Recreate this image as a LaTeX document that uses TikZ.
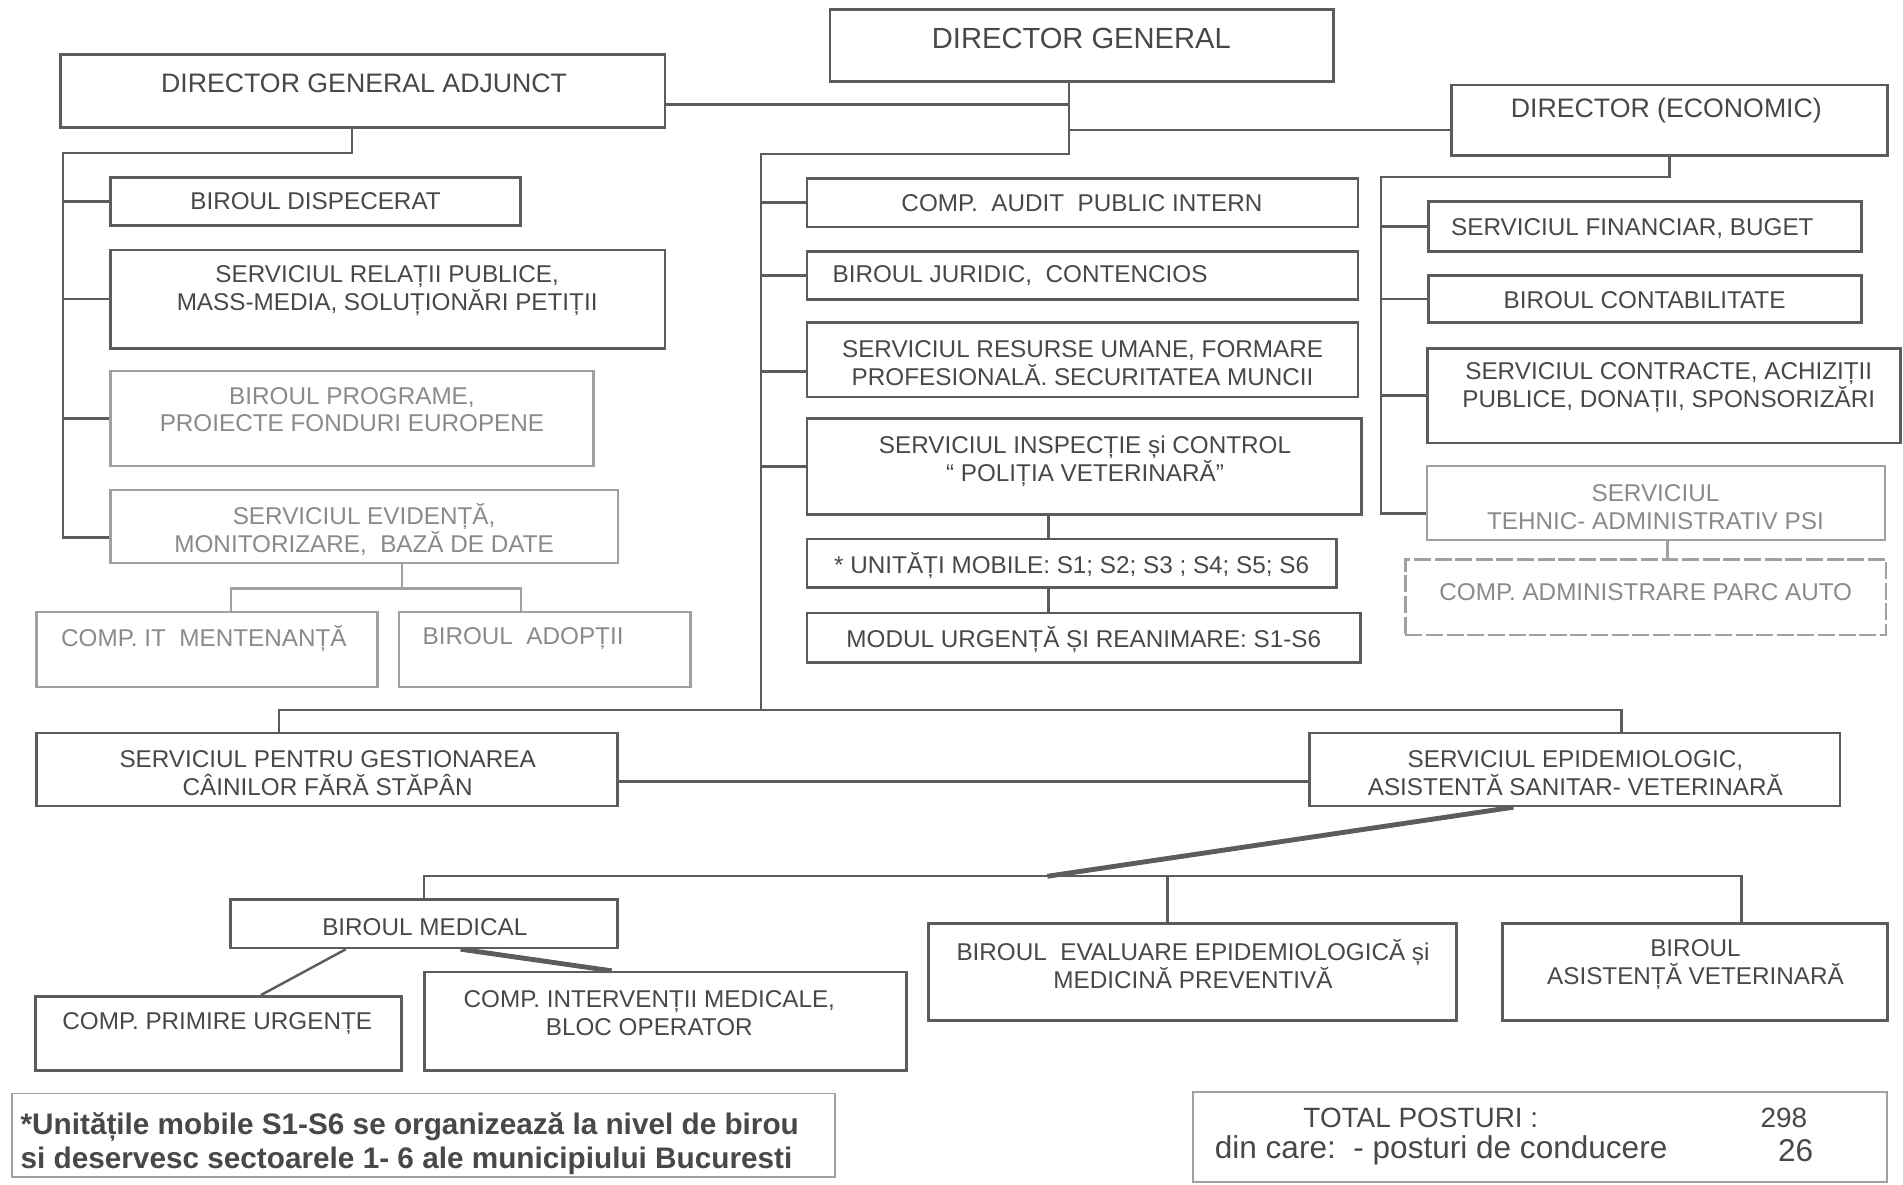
\documentclass[tikz,border=0pt]{standalone}
\usepackage{fontspec}
\setmainfont{Liberation Sans}
\usetikzlibrary{fit}
\definecolor{linegray}{HTML}{5C5C5C}
\definecolor{textgray}{HTML}{484848}
\definecolor{fadegray}{HTML}{A0A0A0}
\definecolor{fadetext}{HTML}{8A8A8A}
\tikzset{every picture/.style={line width=2pt}}

\begin{document}
\begin{tikzpicture}[x=1pt,y=1pt,yscale=-1,xscale=1,
  orgbox/.style={draw=linegray, inner sep=0pt, line width=2.2pt},
  fadebox/.style={draw=fadegray, inner sep=0pt, line width=1.8pt},
  notebox/.style={draw=fadegray, inner sep=0pt, line width=1.6pt},
  link/.style={draw=linegray, line width=2pt},
  fadelink/.style={draw=fadegray, line width=1.8pt},
  thicklink/.style={draw=linegray, line width=4pt},
  boxtext/.style={text=textgray, inner sep=0pt, align=center, font=\fontsize{20}{23}\selectfont},
  fadetxt/.style={boxtext, text=fadetext}
]
\useasboundingbox (0,0) rectangle (1568,976);

%Shape: Rectangle [top level]
\node[orgbox, fit={(684,8) (1099,67)}] (dg) {};
\node[orgbox, fit={(50,45) (548,105)}] (dga) {};
\node[orgbox, fit={(1196,70) (1555,128)}] (de) {};

%Shape: Rectangle [left column]
\node[orgbox, fit={(91,146) (429,186)}] (disp) {};
\node[orgbox, fit={(91,206) (548,287)}] (relatii) {};
\node[fadebox, fit={(91,306) (489,384)}] (programe) {};
\node[fadebox, fit={(91,404) (509,464)}] (evidenta) {};
\node[fadebox, fit={(30,504) (311,566)}] (compit) {};
\node[fadebox, fit={(329,504) (569,566)}] (adoptii) {};

%Shape: Rectangle [center column]
\node[orgbox, fit={(665,147) (1119,187)}] (audit) {};
\node[orgbox, fit={(665,207) (1119,247)}] (juridic) {};
\node[orgbox, fit={(665,266) (1119,327)}] (resurse) {};
\node[orgbox, fit={(665,345) (1122,424)}] (inspectie) {};
\node[orgbox, fit={(665,444) (1101,484)}] (unitati) {};
\node[orgbox, fit={(665,505) (1121,546)}] (modul) {};

%Shape: Rectangle [right column]
\node[orgbox, fit={(1177,166) (1534,207)}] (financiar) {};
\node[orgbox, fit={(1177,227) (1534,266)}] (contab) {};
\node[orgbox, fit={(1176,287) (1566,365)}] (contracte) {};
\node[fadebox, fit={(1176,384) (1553,445)}] (tehnic) {};
\node[fadebox, dash pattern=on 14pt off 3pt, fit={(1158,461) (1554,523)}] (parcauto) {};

%Shape: Rectangle [bottom]
\node[orgbox, fit={(30,604) (509,664)}] (caini) {};
\node[orgbox, fit={(1079,604) (1516,664)}] (epidem) {};
\node[orgbox, fit={(190,741) (509,781)}] (medical) {};
\node[orgbox, fit={(765,761) (1200,841)}] (evaluare) {};
\node[orgbox, fit={(1238,761) (1555,841)}] (asistenta) {};
\node[orgbox, fit={(29,821) (331,882)}] (primire) {};
\node[orgbox, fit={(350,801) (747,882)}] (interventii) {};
\node[notebox, fit={(10,901) (688,970)}] (nota) {};
\node[notebox, fit={(983,900) (1555,974)}] (total) {};

%Straight Lines [director general]
\coordinate (dgbot) at ([xshift=-10.5pt]dg.south);
\coordinate (ctrunk) at (627,127);
\coordinate (cbus) at (627,585);
\draw[link] (dgbot) |- ([yshift=11pt]dga.east);
\draw[link] (dgbot) |- ([yshift=8pt]de.west);
\draw[link] (dgbot) |- (ctrunk) -- (cbus);
\foreach \n in {audit,juridic,inspectie}
  \draw[link] (ctrunk |- \n.west) -- (\n.west);
\coordinate (rshook) at ([yshift=9.5pt]resurse.west);
\draw[link] (ctrunk |- rshook) -- (rshook);
\coordinate (inspbot) at ([xshift=-29.5pt]inspectie.south);
\draw[link] (inspbot) -- (inspbot |- unitati.north);
\draw[link] (inspbot |- unitati.south) -- (inspbot |- modul.north);

%Straight Lines [left column]
\coordinate (ltrunk) at (52,126);
\coordinate (evhook) at ([yshift=9pt]evidenta.west);
\draw[link] ([xshift=-9pt]dga.south) |- (ltrunk) -- (ltrunk |- evhook) -- (evhook);
\foreach \n in {disp,relatii,programe}
  \draw[link] (ltrunk |- \n.west) -- (\n.west);
\coordinate (evsplit) at ([xshift=31pt,yshift=20pt]evidenta.south);
\draw[fadelink] ([xshift=31pt]evidenta.south) -- (evsplit);
\draw[fadelink] ([xshift=19.5pt]compit.north) |- (evsplit) -| ([xshift=-20pt]adoptii.north);

%Straight Lines [right column]
\coordinate (rtrunk) at (1138,146);
\coordinate (tehook) at ([yshift=8.5pt]tehnic.west);
\draw[link] (de.south) |- (rtrunk) -- (rtrunk |- tehook) -- (tehook);
\foreach \n in {financiar,contab,contracte}
  \draw[link] (rtrunk |- \n.west) -- (\n.west);
\coordinate (tehbot) at ([xshift=9.5pt]tehnic.south);
\draw[fadelink] (tehbot) -- (tehbot |- parcauto.north);

%Straight Lines [bottom]
\draw[link] ([xshift=-39.5pt]caini.north) |- (cbus) -| ([xshift=38.5pt]epidem.north);
\draw[link] ([yshift=10pt]caini.east) -- ([yshift=10pt]epidem.west);
\coordinate (mbus) at (863,722);
\draw[thicklink] ([xshift=-50.5pt]epidem.south) -- (mbus);
\draw[link] (medical.north) |- (mbus) -| ([xshift=38.5pt]asistenta.north);
\coordinate (evtop) at ([xshift=-20.5pt]evaluare.north);
\draw[link] (evtop) -- (evtop |- mbus);
\draw[link] ([xshift=-64.5pt]medical.south) -- ([xshift=35pt]primire.north);
\draw[thicklink] ([xshift=30pt]medical.south) -- ([xshift=-44.5pt]interventii.north);

% Text Node
\node[boxtext, font=\fontsize{24}{28}\selectfont] (dg-t) at (891,32) {DIRECTOR GENERAL};
\node[boxtext, font=\fontsize{22}{26}\selectfont] (dga-t) at (300,69) {DIRECTOR GENERAL ADJUNCT};
\node[boxtext, font=\fontsize{22}{26}\selectfont] (de-t) at (1373,91) {DIRECTOR (ECONOMIC)};
% Text Node
\node[boxtext] (disp-t) at (260,166) {BIROUL DISPECERAT};
\node[boxtext] (relatii-t) at (319,239.5) {SERVICIUL RELAȚII PUBLICE,\\MASS-MEDIA, SOLUȚIONĂRI PETIȚII};
\node[fadetxt] (programe-t) at (290,337.5) {BIROUL PROGRAME,\\PROIECTE FONDURI EUROPENE};
\node[fadetxt] (evidenta-t) at (300,436) {SERVICIUL EVIDENȚĂ,\\MONITORIZARE,\ \ BAZĂ DE DATE};
\node[fadetxt] (compit-t) at (168,526) {COMP. IT\ \ MENTENANȚĂ};
\node[fadetxt] (adoptii-t) at (431,526) {BIROUL\ \ ADOPȚII};
% Text Node
\node[boxtext] (audit-t) at (891.5,167) {COMP.\ \ AUDIT\ \ PUBLIC INTERN};
\node[boxtext, anchor=west] (juridic-t) at (685,227) {BIROUL JURIDIC,\ \ CONTENCIOS};
\node[boxtext] (resurse-t) at (892,299) {SERVICIUL RESURSE UMANE, FORMARE\\PROFESIONALĂ. SECURITATEA MUNCII};
\node[boxtext] (inspectie-t) at (894,380) {SERVICIUL INSPECȚIE și CONTROL\\“ POLIȚIA VETERINARĂ”};
\node[boxtext] (unitati-t) at (883,466) {* UNITĂȚI MOBILE: S1; S2; S3 ; S4; S5; S6};
\node[boxtext] (modul-t) at (893,527) {MODUL URGENȚĂ ȘI REANIMARE: S1-S6};
% Text Node
\node[boxtext] (financiar-t) at (1345,188) {SERVICIUL FINANCIAR, BUGET};
\node[boxtext] (contab-t) at (1355,247) {BIROUL CONTABILITATE};
\node[boxtext] (contracte-t) at (1375,319) {SERVICIUL CONTRACTE, ACHIZIȚII\\PUBLICE, DONAȚII, SPONSORIZĂRI};
\node[fadetxt] (tehnic-t) at (1364,418) {SERVICIUL\\TEHNIC- ADMINISTRATIV PSI};
\node[fadetxt] (parcauto-t) at (1356,488) {COMP. ADMINISTRARE PARC AUTO};
% Text Node
\node[boxtext] (caini-t) at (270,637) {SERVICIUL PENTRU GESTIONAREA\\CÂINILOR FĂRĂ STĂPÂN};
\node[boxtext] (epidem-t) at (1298,637) {SERVICIUL EPIDEMIOLOGIC,\\ASISTENTĂ SANITAR- VETERINARĂ};
\node[boxtext] (medical-t) at (350,764) {BIROUL MEDICAL};
\node[boxtext] (evaluare-t) at (983,794.5) {BIROUL\ \ EVALUARE EPIDEMIOLOGICĂ și\\MEDICINĂ PREVENTIVĂ};
\node[boxtext] (asistenta-t) at (1397,794.5) {BIROUL\\ASISTENȚĂ VETERINARĂ};
\node[boxtext] (primire-t) at (179,843) {COMP. PRIMIRE URGENȚE};
\node[boxtext] (interventii-t) at (535,834.5) {COMP. INTERVENȚII MEDICALE,\\BLOC OPERATOR};
% Text Node
\node[boxtext, anchor=west, align=left, font=\bfseries\fontsize{24.5}{28}\selectfont] (nota-t) at (16,942) {*Unitățile mobile S1-S6 se organizează la nivel de birou\\si deservesc sectoarele 1- 6 ale municipiului Bucuresti};
\node[boxtext, anchor=west, font=\fontsize{23}{27}\selectfont] (total-t) at (1073,921) {TOTAL POSTURI :};
\node[boxtext, anchor=east, font=\fontsize{23}{27}\selectfont] (total-n) at (1490,921) {298};
\node[boxtext, anchor=west, font=\fontsize{26}{30}\selectfont] (cond-t) at (1000,948) {din care:\ \ - posturi de conducere};
\node[boxtext, anchor=east, font=\fontsize{26}{30}\selectfont] (cond-n) at (1495,948) {26};

\end{tikzpicture}
\end{document}
